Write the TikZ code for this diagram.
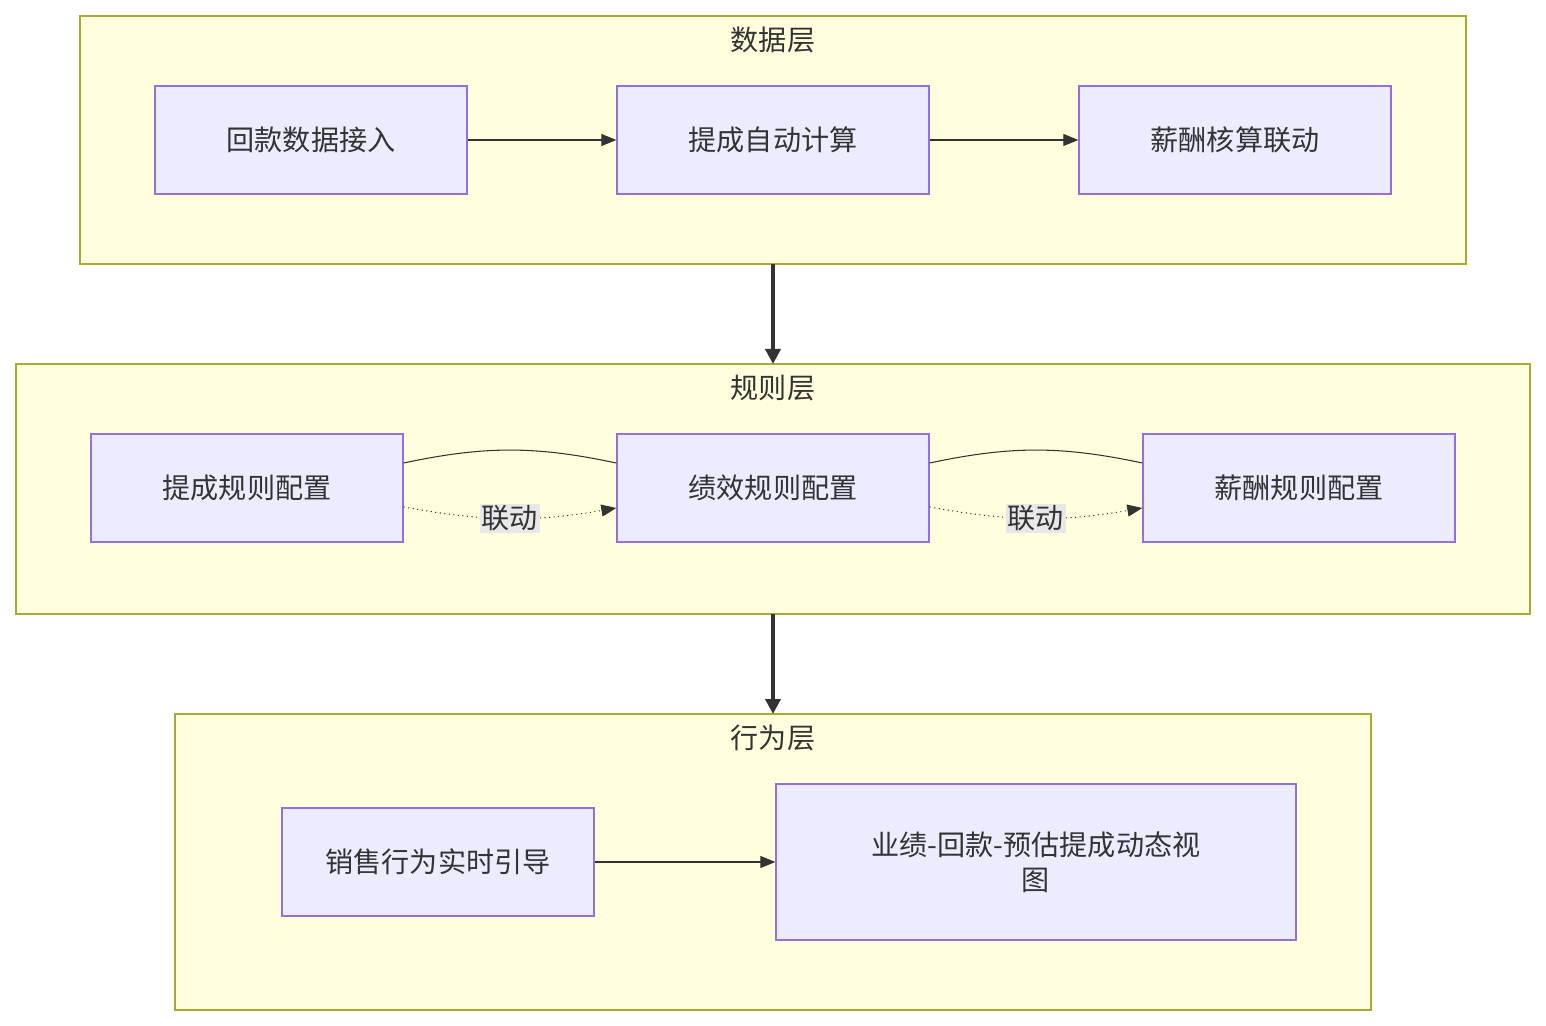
\documentclass[tikz,border=0pt]{standalone}
\usepackage{fontspec}
\setmainfont{Noto Sans CJK SC}
\usetikzlibrary{arrows.meta,positioning,fit}
\definecolor{boxfill}{HTML}{ECECFF}
\definecolor{boxline}{HTML}{9370DB}
\definecolor{layerfill}{HTML}{FFFFDE}
\definecolor{layerline}{HTML}{AAAA33}
\definecolor{ink}{HTML}{333333}
\definecolor{tagbg}{HTML}{E8E8E8}
\tikzset{
	layer/.style = {draw = layerline, fill = layerfill, line width = 0.8pt},
	stage/.style = {draw = boxline, fill = boxfill, line width = 0.8pt, text = ink,
		minimum width = 6.24cm, minimum height = 2.16cm, font = \fontsize{16}{20}\selectfont},
	title/.style = {text = ink, font = \fontsize{16}{20}\selectfont},
	flow/.style = {-{Triangle[length = 3mm, width = 2.4mm]}, draw = ink, line width = 0.6pt},
	link/.style = {-{Triangle[length = 3mm, width = 2.4mm]}, draw = ink, line width = 0.6pt, dotted},
	tag/.style = {fill = tagbg, text = ink, inner sep = 1pt, font = \fontsize{16}{20}\selectfont},
	bigflow/.style = {-{Triangle[length = 3mm, width = 3mm]}, draw = ink, line width = 2.4pt}
}
\begin{document}
\begin{tikzpicture}[x = 0.02cm, y = -0.02cm]
	\useasboundingbox (0, 0) rectangle (1546, 1026);
	% layers
	\draw [layer] (80, 16) rectangle (1466, 264);
	\draw [layer] (16, 364) rectangle (1530, 614);
	\draw [layer] (175, 714) rectangle (1371, 1010);
	\node [title] (tData) at (773, 40) {数据层};
	\node [title] (tRule) at (773, 388) {规则层};
	\node [title] (tAct) at (773, 738) {行为层};
	\coordinate (dBot) at (773, 264);
	\coordinate (rTop) at (773, 364);
	\coordinate (rBot) at (773, 614);
	\coordinate (aTop) at (773, 714);

	% data layer
	\node [stage] (d1) at (311, 140) {回款数据接入};
	\node [stage] (d2) at (773, 140) {提成自动计算};
	\node [stage] (d3) at (1235, 140) {薪酬核算联动};
	\draw [flow] (d1) -- (d2);
	\draw [flow] (d2) -- (d3);

	% rule layer
	\node [stage] (r1) at (247, 488) {提成规则配置};
	\node [stage] (r2) at (773, 488) {绩效规则配置};
	\node [stage] (r3) at (1299, 488) {薪酬规则配置};
	\foreach \a/\b in {r1/r2, r2/r3}{
		\draw [ink, line width = 0.6pt] ([yshift = 0.5cm]\a.east) to [bend left = 12] ([yshift = 0.5cm]\b.west);
		\draw [link] ([yshift = -0.38cm]\a.east) to [bend right = 10]
			node [tag, pos = 0.5] {联动} ([yshift = -0.4cm]\b.west);
	}

	% action layer
	\node [stage] (a1) at (438, 862) {销售行为实时引导};
	\node [stage, minimum width = 10.4cm, minimum height = 3.12cm, align = center] (a2) at (1036, 862)
		{业绩-回款-预估提成动态视\\图};
	\draw [flow] (a1) -- (a2);

	% between layers
	\draw [bigflow] (dBot) -- (rTop);
	\draw [bigflow] (rBot) -- (aTop);
\end{tikzpicture}
\end{document}
